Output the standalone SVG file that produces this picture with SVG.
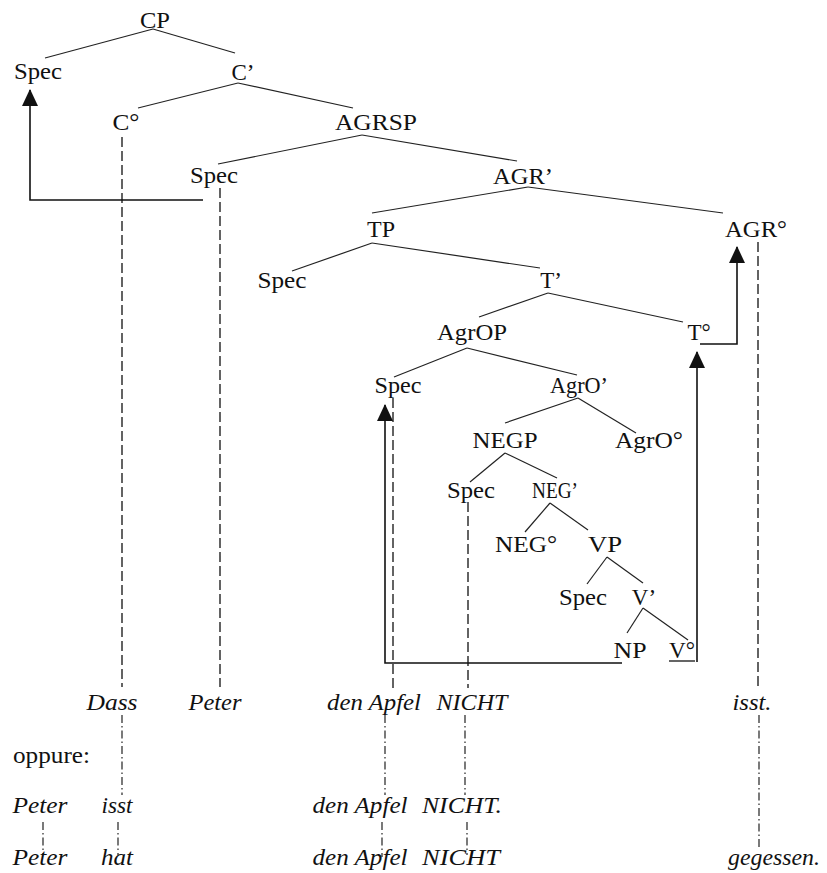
<svg xmlns="http://www.w3.org/2000/svg" width="827" height="873" viewBox="0 0 827 873">
<defs>
<style>
text{font-family:"Liberation Serif","Times New Roman",serif;font-size:23px;fill:#111;text-anchor:middle}
.it{font-style:italic}
.lft{text-anchor:start}
.edge{stroke:#222;stroke-width:1.2;fill:none}
.trace{stroke:#222;stroke-width:1.4;fill:none;stroke-dasharray:10 4}
.dd{stroke:#222;stroke-width:1.2;fill:none;stroke-dasharray:8 3 1.5 3}
.mv{stroke:#111;stroke-width:1.6;fill:none;marker-end:url(#ah)}
</style>
<marker id="ah" markerUnits="userSpaceOnUse" markerWidth="17" markerHeight="16" refX="16" refY="8" orient="auto">
<path d="M0,0 L17,8 L0,16 z" fill="#111"/>
</marker>
</defs>
<rect width="827" height="873" fill="#fff"/>
<g id="connectors">
<g id="tree-edges">
<line class="edge" x1="153" y1="29" x2="45" y2="58"/>
<line class="edge" x1="153" y1="29" x2="235" y2="53"/>
<line class="edge" x1="238" y1="83" x2="138" y2="108"/>
<line class="edge" x1="238" y1="83" x2="353" y2="108"/>
<line class="edge" x1="362" y1="135" x2="218" y2="164"/>
<line class="edge" x1="362" y1="135" x2="517" y2="161"/>
<line class="edge" x1="528" y1="187" x2="372" y2="213"/>
<line class="edge" x1="528" y1="187" x2="723" y2="213"/>
<line class="edge" x1="372" y1="243" x2="292" y2="271"/>
<line class="edge" x1="372" y1="243" x2="540" y2="268"/>
<line class="edge" x1="548" y1="293" x2="479" y2="317"/>
<line class="edge" x1="548" y1="293" x2="683" y2="322"/>
<line class="edge" x1="467" y1="348" x2="394" y2="377"/>
<line class="edge" x1="467" y1="348" x2="577" y2="375"/>
<line class="edge" x1="578" y1="398" x2="505" y2="423"/>
<line class="edge" x1="578" y1="398" x2="636" y2="433"/>
<line class="edge" x1="505" y1="453" x2="470" y2="482"/>
<line class="edge" x1="505" y1="453" x2="557" y2="478"/>
<line class="edge" x1="550" y1="503" x2="525" y2="532"/>
<line class="edge" x1="550" y1="503" x2="588" y2="530"/>
<line class="edge" x1="607" y1="557" x2="587" y2="584"/>
<line class="edge" x1="607" y1="557" x2="643" y2="583"/>
<line class="edge" x1="643" y1="608" x2="627" y2="633"/>
<line class="edge" x1="643" y1="608" x2="688" y2="640"/>
</g>
<g id="traces">
<line class="trace" x1="122" y1="137" x2="122" y2="687"/>
<line class="trace" x1="220" y1="188" x2="220" y2="687"/>
<line class="trace" x1="758" y1="242" x2="758" y2="687"/>
<line class="trace" x1="393" y1="398" x2="393" y2="688"/>
<line class="trace" x1="468" y1="502" x2="468" y2="688"/>
<line class="dd" x1="122" y1="715" x2="122" y2="795"/>
<line class="dd" x1="385" y1="715" x2="385" y2="795"/>
<line class="dd" x1="465" y1="715" x2="465" y2="795"/>
<line class="dd" x1="759" y1="715" x2="759" y2="848"/>
<line class="dd" x1="43" y1="822" x2="43" y2="855"/>
<line class="dd" x1="118" y1="822" x2="118" y2="855"/>
<line class="dd" x1="382" y1="822" x2="382" y2="857"/>
<line class="dd" x1="467" y1="822" x2="467" y2="855"/>
</g>
<g id="movements">
<polyline class="mv" points="203,200 30,200 30,90"/>
<polyline class="mv" points="700,344 737,344 737,247"/>
<polyline class="mv" points="622,663 385,663 385,405"/>
<polyline class="mv" points="697,662 697,352"/>
</g>
</g>
<g id="n-CP"><text x="155" y="28" textLength="30" lengthAdjust="spacingAndGlyphs">CP</text></g>
<g id="n-SpecCP"><text x="38" y="79" textLength="48" lengthAdjust="spacingAndGlyphs">Spec</text></g>
<g id="n-Cbar"><text x="243" y="80">C’</text></g>
<g id="n-C0"><text x="126" y="130" textLength="27" lengthAdjust="spacingAndGlyphs">C°</text></g>
<g id="n-AGRSP"><text x="376" y="130" textLength="82" lengthAdjust="spacingAndGlyphs">AGRSP</text></g>
<g id="n-SpecAGRS"><text x="214" y="183" textLength="48" lengthAdjust="spacingAndGlyphs">Spec</text></g>
<g id="n-AGRbar"><text x="523" y="184" textLength="60" lengthAdjust="spacingAndGlyphs">AGR’</text></g>
<g id="n-AGR0"><text x="756" y="237" textLength="62" lengthAdjust="spacingAndGlyphs">AGR°</text></g>
<g id="n-TP"><text x="381" y="237" textLength="28" lengthAdjust="spacingAndGlyphs">TP</text></g>
<g id="n-SpecTP"><text x="282" y="288" textLength="49" lengthAdjust="spacingAndGlyphs">Spec</text></g>
<g id="n-Tbar"><text x="551" y="288">T’</text></g>
<g id="n-AgrOP"><text x="472" y="340" textLength="70" lengthAdjust="spacingAndGlyphs">AgrOP</text></g>
<g id="n-T0"><text x="699" y="340">T°</text></g>
<g id="n-SpecAgrO"><text x="398" y="393" textLength="47" lengthAdjust="spacingAndGlyphs">Spec</text></g>
<g id="n-AgrObar"><text x="579" y="393" textLength="58" lengthAdjust="spacingAndGlyphs">AgrO’</text></g>
<g id="n-NEGP"><text x="505" y="448" textLength="65" lengthAdjust="spacingAndGlyphs">NEGP</text></g>
<g id="n-AgrO0"><text x="649" y="448" textLength="68" lengthAdjust="spacingAndGlyphs">AgrO°</text></g>
<g id="n-SpecNEG"><text x="471" y="498" textLength="48" lengthAdjust="spacingAndGlyphs">Spec</text></g>
<g id="n-NEGbar"><text x="555" y="498" textLength="46" lengthAdjust="spacingAndGlyphs">NEG’</text></g>
<g id="n-NEG0"><text x="526" y="552" textLength="62" lengthAdjust="spacingAndGlyphs">NEG°</text></g>
<g id="n-VP"><text x="605" y="552" textLength="34" lengthAdjust="spacingAndGlyphs">VP</text></g>
<g id="n-SpecVP"><text x="583" y="605" textLength="48" lengthAdjust="spacingAndGlyphs">Spec</text></g>
<g id="n-Vbar"><text x="644" y="605">V’</text></g>
<g id="n-NP"><text x="630" y="658" textLength="33" lengthAdjust="spacingAndGlyphs">NP</text></g>
<g id="n-V0"><text x="682" y="658" textLength="26" lengthAdjust="spacingAndGlyphs">V°</text><line x1="669" y1="661" x2="695" y2="661" stroke="#111" stroke-width="1.3"/></g>
<g id="words-1">
<text class="it" x="112" y="710" textLength="51" lengthAdjust="spacingAndGlyphs">Dass</text>
<text class="it" x="215" y="710" textLength="53" lengthAdjust="spacingAndGlyphs">Peter</text>
<text class="it" x="374" y="710" textLength="94" lengthAdjust="spacingAndGlyphs">den Apfel</text>
<text class="it" x="472" y="710" textLength="71" lengthAdjust="spacingAndGlyphs">NICHT</text>
<text class="it" x="752" y="710" textLength="39" lengthAdjust="spacingAndGlyphs">isst.</text>
</g>
<g id="label-oppure"><text class="lft" x="13" y="763" textLength="77" lengthAdjust="spacingAndGlyphs">oppure:</text></g>
<g id="words-2">
<text class="it" x="40" y="813" textLength="55" lengthAdjust="spacingAndGlyphs">Peter</text>
<text class="it" x="117" y="813" textLength="31" lengthAdjust="spacingAndGlyphs">isst</text>
<text class="it" x="360" y="813" textLength="95" lengthAdjust="spacingAndGlyphs">den Apfel</text>
<text class="it" x="462" y="813" textLength="80" lengthAdjust="spacingAndGlyphs">NICHT.</text>
</g>
<g id="words-3">
<text class="it" x="40" y="865" textLength="55" lengthAdjust="spacingAndGlyphs">Peter</text>
<text class="it" x="117" y="865" textLength="32" lengthAdjust="spacingAndGlyphs">hat</text>
<text class="it" x="360" y="865" textLength="95" lengthAdjust="spacingAndGlyphs">den Apfel</text>
<text class="it" x="461" y="865" textLength="78" lengthAdjust="spacingAndGlyphs">NICHT</text>
<text class="it" x="774" y="865" textLength="92" lengthAdjust="spacingAndGlyphs">gegessen.</text>
</g>
</svg>
